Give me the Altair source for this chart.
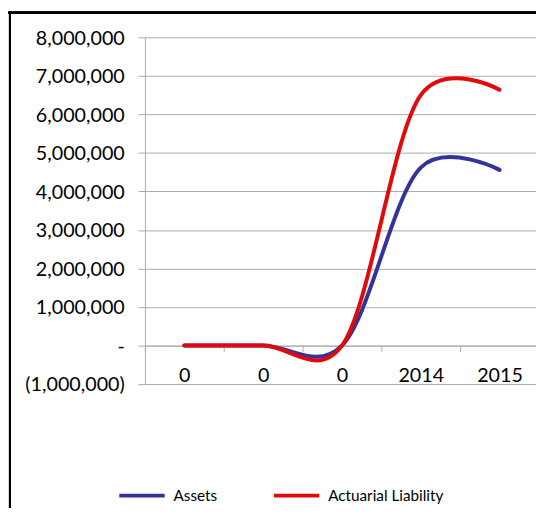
import altair as alt
import pandas as pd

# ---- data ----
categories = ["0", "0", "0", "2014", "2015"]
assets = [0, 0, 0, 4620000, 4560000]
liability = [0, 0, 0, 6500000, 6640000]
series_names = ["Assets", "Actuarial Liability"]
series_colors = ["#333399", "#e10a0a"]
y_ticks = [-1000000, 0, 1000000, 2000000, 3000000, 4000000, 5000000, 6000000, 7000000, 8000000]

rows = []
for i, c in enumerate(categories):
    rows.append({"idx": i, "series": series_names[0], "value": assets[i]})
for i, c in enumerate(categories):
    rows.append({"idx": i, "series": series_names[1], "value": liability[i]})
df = pd.DataFrame(rows)

W, H = 397, 352
PAD_L, PAD_T, PAD_B = 139, 26, 122
GRID = "#ababab"
FONT = "Lato"
NB = "\u00a0"

label_js = "[" + ",".join("'" + c + "'" for c in categories) + "]"
x_label_expr = label_js + "[round(datum.value + 0.5)]"
y_label_expr = (
    "datum.value == 0 ? '-" + NB + "' : datum.value < 0 ? '(' + format(-datum.value, ',') + ')' "
    ": format(datum.value, ',') + '" + NB + "'"
)

band_px = 80.0
x_domain = [-0.5, -0.5 + W / band_px]

lines = alt.Chart(df).mark_line(
    interpolate="catmull-rom", tension=0.12, strokeWidth=4, strokeCap="round", strokeJoin="round"
).encode(
    x=alt.X(
        "idx:Q",
        scale=alt.Scale(domain=x_domain, nice=False, zero=False),
        axis=alt.Axis(
            values=[-0.5, 0.5, 1.5, 2.5, 3.5],
            labelExpr=x_label_expr,
            labelOffset=band_px / 2,
            offset=-H / 9.0,
            title=None,
            grid=False,
            domainColor=GRID,
            tickColor=GRID,
            tickSize=6,
            labelPadding=14.6,
            labelFont=FONT,
            labelFontSize=20,
            labelColor="#000000",
            labelFlush=False,
            labelOverlap=False,
            labelBound=False,
        ),
    ),
    y=alt.Y(
        "value:Q",
        scale=alt.Scale(domain=[-1000000, 8000000], nice=False, zero=False),
        axis=alt.Axis(
            values=y_ticks,
            labelExpr=y_label_expr,
            title=None,
            grid=True,
            gridColor=GRID,
            gridWidth=1,
            domainColor=GRID,
            tickColor=GRID,
            tickSize=7,
            labelPadding=14,
            labelOffset=1,
            labelFont=FONT,
            labelFontSize=20,
            labelColor="#000000",
            labelOverlap=False,
        ),
    ),
    color=alt.Color(
        "series:N",
        scale=alt.Scale(domain=series_names, range=series_colors),
        legend=alt.Legend(
            orient="none",
            legendX=-28,
            legendY=440,
            direction="horizontal",
            columns=2,
            title=None,
            symbolType="stroke",
            symbolSize=2116,
            symbolStrokeWidth=4,
            labelFont=FONT,
            labelFontSize=15.5,
            labelColor="#000000",
            labelOffset=7,
            columnPadding=49,
            padding=0,
        ),
    ),
    order=alt.Order("idx:Q"),
)

frame_top = alt.Chart(df).mark_rect(color="#000000").encode(
    x=alt.value(-138.5), x2=alt.value(W + 20), y=alt.value(-26), y2=alt.value(-24)
)
frame_left = alt.Chart(df).mark_rect(color="#000000").encode(
    x=alt.value(-138), x2=alt.value(-136), y=alt.value(-26), y2=alt.value(H + PAD_B + 20)
)

chart = alt.layer(lines, frame_top, frame_left).properties(
    width=W,
    height=H,
    padding={"left": PAD_L, "top": PAD_T, "right": 0, "bottom": PAD_B},
    autosize=alt.AutoSizeParams(type="none"),
    background="#ffffff",
).configure_view(strokeWidth=0)

chart.save("out.html", embed_options={"renderer": "svg", "actions": False})
